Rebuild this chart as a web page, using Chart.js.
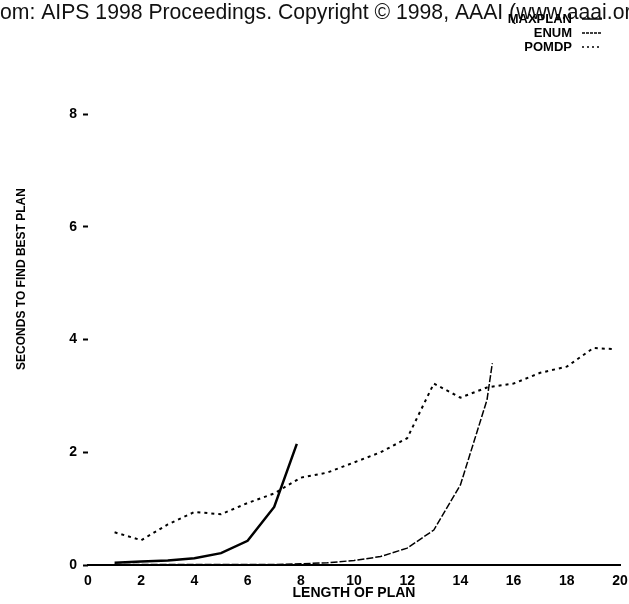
<!DOCTYPE html>
<html>
<head>
<meta charset="utf-8">
<script src="https://cdn.jsdelivr.net/npm/chart.js@4.4.1/dist/chart.umd.min.js"></script>
<style>
  html, body { margin: 0; padding: 0; background: #fff; }
  #wrap { position: relative; width: 629px; height: 604px; }
</style>
</head>
<body>
<div id="wrap"><canvas id="chart" width="629" height="604"></canvas></div>
<script>
// values
const maxplanX = [1, 2, 3, 4, 5, 6, 7, 7.85]
const maxplanY = [0.04, 0.06, 0.08, 0.12, 0.21, 0.43, 1.03, 2.15]

const enumX = [1, 2, 3, 4, 5, 6, 7, 8, 9, 10, 11, 12, 13, 14, 15, 15.2]
const enumY = [0.01, 0.01, 0.01, 0.01, 0.01, 0.01, 0.01, 0.02, 0.04, 0.08, 0.15, 0.3, 0.62, 1.42, 2.93, 3.58]

const pomdpX = [1, 2, 3, 4, 5, 6, 7, 8, 9, 10, 11, 12, 13, 14, 15, 16, 17, 18, 19, 19.8]
const pomdpY = [0.58, 0.44, 0.72, 0.94, 0.9, 1.1, 1.27, 1.55, 1.64, 1.82, 2.0, 2.25, 3.22, 2.97, 3.15, 3.22, 3.41, 3.52, 3.85, 3.83]

const xTitle = 'LENGTH OF PLAN'
const yTitle = 'SECONDS TO FIND BEST PLAN'
const header = 'From: AIPS 1998 Proceedings. Copyright © 1998, AAAI (www.aaai.org). All rights reserved.'

const toPoints = (xs, ys) => xs.map((x, i) => ({ x, y: ys[i] }))

const font = 'Liberation Sans, Arial, sans-serif'

// header line, y title and legend are drawn on top, like the scanned page
const extras = {
    id: 'extras',
    afterDraw(chart) {
        const ctx = chart.ctx
        ctx.save()

        ctx.font = '21.2px ' + font
        ctx.fillStyle = '#111'
        ctx.textBaseline = 'alphabetic'
        ctx.textAlign = 'left'
        const shift = ctx.measureText('Fr').width
        ctx.fillText(header, -shift, 19)

        ctx.font = 'bold 12px ' + font
        ctx.fillStyle = '#000'
        ctx.translate(22, 279)
        ctx.rotate(-Math.PI / 2)
        ctx.textAlign = 'center'
        ctx.textBaseline = 'middle'
        ctx.fillText(yTitle, 0, 0)
        ctx.setTransform(1, 0, 0, 1, 0, 0)

        ctx.font = 'bold 13px ' + font
        ctx.textAlign = 'right'
        chart.data.datasets.forEach((ds, i) => {
            const y = 19 + i * 14
            ctx.fillStyle = '#000'
            ctx.fillText(ds.label, 572, y)
            ctx.strokeStyle = ds.borderColor
            ctx.lineWidth = 1.5
            ctx.setLineDash(ds.legendDash)
            ctx.beginPath()
            ctx.moveTo(582, y)
            ctx.lineTo(602, y)
            ctx.stroke()
        })
        ctx.restore()
    }
}

new Chart(document.getElementById('chart'), {
    type: 'line',
    data: {
        datasets: [
            {
                label: 'MAXPLAN',
                data: toPoints(maxplanX, maxplanY),
                borderColor: '#000',
                borderWidth: 2.5,
                legendDash: []
            },
            {
                label: 'ENUM',
                data: toPoints(enumX, enumY),
                borderColor: '#000',
                borderWidth: 1.5,
                borderDash: [7, 2],
                legendDash: [3, 1]
            },
            {
                label: 'POMDP',
                data: toPoints(pomdpX, pomdpY),
                borderColor: '#000',
                borderWidth: 2,
                borderDash: [3, 4],
                legendDash: [2, 3]
            }
        ]
    },
    options: {
        responsive: false,
        animation: false,
        elements: { point: { radius: 0 }, line: { tension: 0 } },
        layout: { padding: { top: 1, right: 9, bottom: 4, left: 0 } },
        plugins: { legend: { display: false }, tooltip: { enabled: false } },
        scales: {
            x: {
                type: 'linear',
                min: 0,
                max: 20,
                ticks: { stepSize: 2, padding: 8, color: '#000', font: { family: font, size: 14, weight: 'bold' } },
                grid: { display: true, drawOnChartArea: false, drawTicks: false },
                border: { display: true, color: '#000', width: 2 },
                title: { display: true, text: xTitle, color: '#000', padding: 0, font: { family: font, size: 14, weight: 'bold', lineHeight: 1 } },
                afterFit: (scale) => {
                    scale.height = 35
                    scale.paddingLeft = 0
                    scale.paddingRight = 0
                }
            },
            y: {
                min: 0,
                max: 9.77,
                ticks: { stepSize: 2, padding: 6, color: '#000', font: { family: font, size: 14, weight: 'bold' } },
                afterBuildTicks: (scale) => { scale.ticks = scale.ticks.filter(t => t.value % 2 === 0) },
                grid: { display: true, drawOnChartArea: false, tickLength: 5, tickWidth: 2, tickColor: '#000' },
                border: { display: false },
                afterFit: (scale) => { scale.width = 88 }
            }
        }
    },
    plugins: [extras]
})
</script>
</body>
</html>
